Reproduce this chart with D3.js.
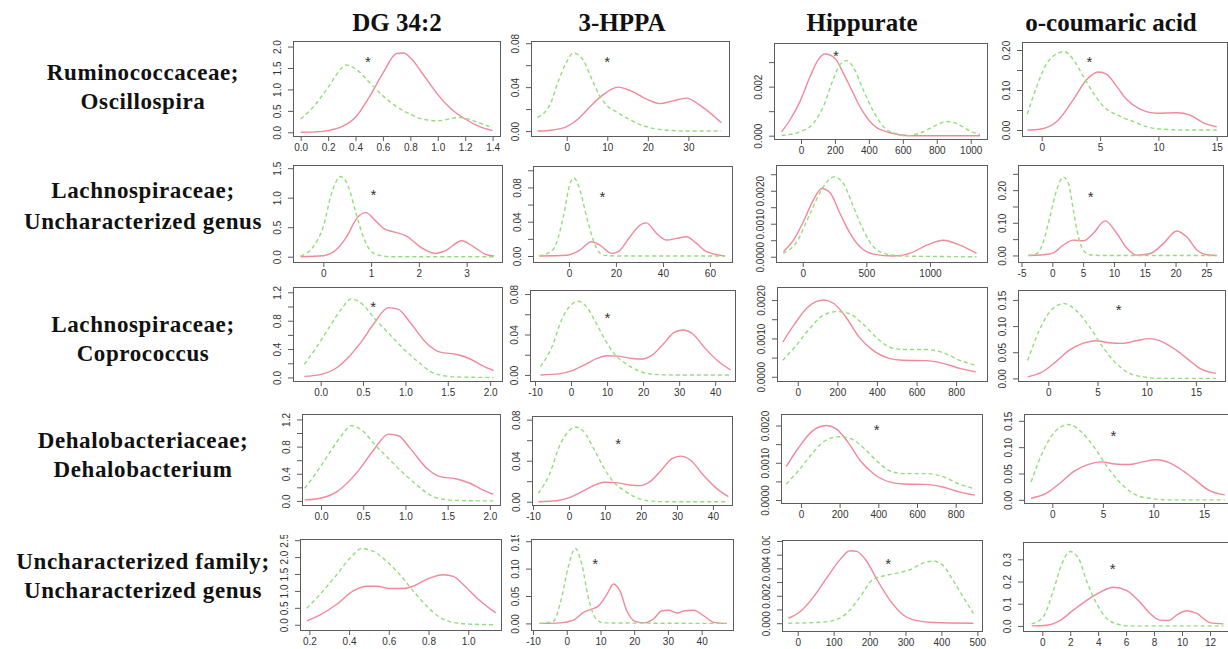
<!DOCTYPE html>
<html>
<head>
<meta charset="utf-8">
<script src="https://cdn.jsdelivr.net/npm/d3@7"></script>
<style>
body { margin: 0; background: #fff; }
.tick text { font-family: "Liberation Sans", Arial, sans-serif; font-size: 10px; fill: #333; }
.lbl { font-family: "Liberation Serif", "Times New Roman", serif; font-weight: bold; fill: #111; }
</style>
</head>
<body>
<svg id="chart"></svg>
<script>
const width = 1228;
const height = 649;

const metabolites = ["DG 34:2", "3-HPPA", "Hippurate", "o-coumaric acid"];
const taxa = [
    ["Ruminococcaceae;", "Oscillospira"],
    ["Lachnospiraceae;", "Uncharacterized genus"],
    ["Lachnospiraceae;", "Coprococcus"],
    ["Dehalobacteriaceae;", "Dehalobacterium"],
    ["Uncharacterized family;", "Uncharacterized genus"]
];

// density curves, [value, density]
// pink = solid line, green = dashed line
const oscDgPink = [[0,0],[0.1,0.01],[0.2,0.04],[0.3,0.13],[0.4,0.35],[0.5,0.82],[0.6,1.38],[0.7,1.84],[0.75,1.85],[0.8,1.74],[0.9,1.32],[1.0,0.88],[1.1,0.54],[1.2,0.31],[1.3,0.14],[1.4,0.04]];
const oscDgGreen = [[0,0.31],[0.1,0.62],[0.2,1.05],[0.3,1.5],[0.33,1.57],[0.4,1.48],[0.5,1.17],[0.6,0.85],[0.7,0.6],[0.8,0.42],[0.9,0.3],[1.0,0.27],[1.1,0.32],[1.15,0.35],[1.2,0.33],[1.3,0.22],[1.4,0.11]];
const oscHppaPink = [[-7.2,0],[-3.3,0.001],[0,0.004],[2.5,0.01],[5.7,0.022],[8.6,0.032],[12.7,0.040],[15.6,0.037],[19.7,0.029],[23,0.025],[26.2,0.0275],[29.5,0.030],[32.8,0.0236],[36,0.0145],[38.1,0.0075]];
const oscHppaGreen = [[-7.2,0.0125],[-4,0.025],[-2,0.046],[0,0.063],[1.6,0.071],[4,0.065],[6,0.049],[8,0.033],[10,0.023],[12,0.018],[15,0.0115],[18,0.006],[22,0.002],[26,0.0005],[30,0],[38.1,0]];
const oscHipPink = [[-114,0.00016],[-65,0.00064],[-6,0.00139],[53,0.0024],[102,0.0031],[141,0.00333],[200,0.00316],[250,0.00254],[299,0.00186],[358,0.00105],[426,0.00044],[525,0.00012],[642,0],[1055,0]];
const oscHipGreen = [[-114,0.00001],[-6,0.00016],[73,0.0005],[132,0.0012],[190,0.0023],[230,0.0029],[269,0.00306],[308,0.0028],[367,0.00186],[426,0.001],[485,0.00037],[564,0.00007],[623,0],[721,0.00016],[800,0.00044],[859,0.00058],[917,0.0005],[996,0.00019],[1055,0.00005]];
const oscCouPink = [[-1.23,0],[-0.14,0.002],[1.29,0.021],[2.71,0.076],[3.86,0.126],[4.86,0.145],[5.57,0.139],[6.43,0.109],[7.29,0.076],[8.43,0.052],[9.86,0.042],[11.57,0.043],[12.71,0.037],[13.86,0.018],[15,0.008]];
const oscCouGreen = [[-1.23,0.04],[-0.43,0.109],[0.57,0.172],[1.91,0.196],[2.71,0.176],[3.57,0.134],[4.43,0.092],[5.29,0.059],[6.43,0.038],[7.86,0.021],[9.29,0.006],[10.4,0.002],[12.7,0],[15,0]];

const lacDgPink = [[-0.475,0],[0,0.017],[0.28,0.125],[0.49,0.34],[0.70,0.65],[0.89,0.747],[1.08,0.62],[1.26,0.48],[1.47,0.42],[1.74,0.35],[2.02,0.17],[2.34,0.057],[2.55,0.10],[2.9,0.27],[3.14,0.17],[3.38,0.045],[3.57,0.011]];
const lacDgGreen = [[-0.475,0.011],[-0.21,0.17],[0,0.51],[0.174,1.075],[0.363,1.36],[0.523,1.19],[0.684,0.736],[0.837,0.34],[0.977,0.11],[1.15,0.028],[1.4,0],[3.57,0]];
const lacHppaPink = [[-12.6,0],[-1,0.0008],[4.7,0.007],[9.6,0.0166],[13.2,0.0127],[18.2,0.0031],[21,0.005],[26,0.0224],[30.2,0.0359],[33,0.0386],[37.3,0.0263],[41.6,0.0186],[45.8,0.0205],[50,0.0224],[54.3,0.0147],[58.6,0.005],[66.4,0]];
const lacHppaGreen = [[-12.6,0],[-6.7,0.0077],[-2.4,0.0456],[0.43,0.084],[2.1,0.091],[4.7,0.077],[7.5,0.046],[11.1,0.013],[14.6,0.001],[21.7,0],[66.4,0]];
const lacHipPink = [[-152,0.00015],[-73,0.0005],[5,0.00106],[84,0.00172],[149,0.00207],[215,0.00194],[293,0.00131],[372,0.00071],[450,0.0003],[555,0.00008],[712,0.00002],[843,0.0001],[974,0.00035],[1105,0.0005],[1236,0.00035],[1366,0.0001]];
const lacHipGreen = [[-152,0.0001],[-47,0.00045],[58,0.00131],[162,0.00212],[246,0.00242],[319,0.00222],[398,0.00152],[476,0.00081],[555,0.0003],[660,0.00008],[790,0.00002],[1366,0]];
const lacCouPink = [[-3.9,0],[-1.5,0.002],[0.16,0.008],[1.79,0.032],[3.41,0.047],[5.04,0.045],[6.67,0.068],[8.56,0.106],[10.46,0.068],[12.1,0.022],[13.7,0.001],[15.9,0.006],[18.05,0.037],[20.2,0.075],[21.8,0.057],[23.5,0.016],[25.1,0.002],[26.7,0]];
const lacCouGreen = [[-3.9,0],[-2.5,0.006],[-1.46,0.042],[-0.38,0.119],[0.7,0.2],[1.79,0.24],[2.6,0.222],[3.41,0.139],[4.23,0.057],[5.04,0.016],[6.1,0.002],[8,0],[26.7,0]];

// rows 3 and 4 show the same densities in the figure
const copDgPink = [[-0.193,0.015],[-0.008,0.04],[0.189,0.137],[0.347,0.31],[0.465,0.48],[0.623,0.75],[0.80,0.984],[0.918,0.96],[1.056,0.774],[1.253,0.48],[1.41,0.357],[1.61,0.323],[1.765,0.26],[1.92,0.16],[2.04,0.098]];
const copDgGreen = [[-0.193,0.186],[-0.047,0.43],[0.11,0.725],[0.248,0.97],[0.359,1.107],[0.485,1.04],[0.642,0.823],[0.82,0.6],[0.977,0.406],[1.135,0.235],[1.29,0.088],[1.45,0.024],[1.65,0.005],[2.04,0]];
const copHppaPink = [[-8.5,0],[-3.4,0.001],[0.3,0.0042],[4,0.0105],[7.2,0.0163],[10,0.019],[13.2,0.0186],[16.9,0.0163],[19.7,0.0157],[22.5,0.0196],[25.7,0.031],[28.5,0.0418],[31,0.0445],[33.8,0.0405],[37.3,0.026],[41,0.013],[44.3,0.0049]];
const copHppaGreen = [[-8.5,0.0082],[-5.3,0.0278],[-2.5,0.0555],[0.3,0.0702],[1.9,0.0728],[4,0.0686],[6.8,0.0523],[9.5,0.0343],[12.3,0.0196],[15.1,0.0114],[18.8,0.0039],[22.5,0.0007],[28,0],[44.3,0]];
const copHipPink = [[-76,0.0009],[-14,0.00139],[54,0.00183],[131,0.002],[182,0.00191],[241,0.00157],[309,0.00104],[377,0.0007],[461,0.00048],[529,0.00043],[648,0.00042],[733,0.00035],[818,0.00022],[899,0.00013]];
const copHipGreen = [[-76,0.00043],[-14,0.00078],[54,0.00122],[131,0.00161],[198,0.0017],[258,0.00165],[326,0.00139],[394,0.00104],[461,0.00078],[529,0.00071],[648,0.00071],[733,0.00063],[818,0.00043],[899,0.0003]];
const copCouPink = [[-2.1,0.003],[-0.58,0.0127],[0.78,0.032],[2.14,0.054],[3.49,0.067],[4.85,0.072],[6.2,0.068],[7.56,0.067],[8.92,0.072],[10.27,0.076],[11.6,0.07],[13,0.054],[14.3,0.035],[15.4,0.019],[17.05,0.0095]];
const copCouGreen = [[-2.1,0.034],[-0.92,0.092],[0.44,0.133],[1.63,0.143],[2.81,0.13],[4.17,0.099],[5.53,0.06],[6.88,0.029],[8.24,0.0095],[9.6,0.003],[11.3,0],[17.05,0]];

const uncDgPink = [[0.187,0.117],[0.254,0.293],[0.338,0.605],[0.421,1.0],[0.489,1.14],[0.539,1.14],[0.606,1.07],[0.673,1.07],[0.723,1.14],[0.79,1.34],[0.874,1.48],[0.925,1.43],[0.975,1.19],[1.042,0.8],[1.138,0.35]];
const uncDgGreen = [[0.187,0.49],[0.254,0.9],[0.338,1.48],[0.405,1.97],[0.463,2.25],[0.522,2.17],[0.589,1.875],[0.656,1.48],[0.723,1.0],[0.79,0.557],[0.858,0.215],[0.925,0.068],[1.009,0.02],[1.138,0]];
const uncHppaPink = [[-8.1,0],[-2,0.001],[2,0.006],[5,0.02],[7.4,0.026],[9.4,0.032],[11.9,0.053],[13.9,0.072],[15.8,0.059],[17.8,0.023],[20.3,0.0036],[22.8,0.001],[25.7,0.008],[28.2,0.023],[30.2,0.024],[32.7,0.019],[35.1,0.023],[37.6,0.024],[40.6,0.014],[43.6,0.002],[47.5,0]];
const uncHppaGreen = [[-8.1,0],[-4,0.0036],[-2,0.035],[0.5,0.104],[2.5,0.137],[4.5,0.107],[6.4,0.047],[8.4,0.011],[10.9,0.001],[47.5,0]];
const uncHipPink = [[-26,0.00036],[6.5,0.00083],[43.6,0.0019],[80.7,0.0033],[117.8,0.00464],[145.6,0.00529],[164,0.00524],[192,0.00452],[220,0.00321],[257,0.00167],[294,0.0006],[331,0.00019],[378,0.00005],[489,0]];
const uncHipGreen = [[-26,0],[53,0.00005],[99,0.00019],[136,0.00071],[173,0.0019],[210,0.0032],[248,0.0035],[285,0.0037],[313,0.0039],[350,0.0044],[378,0.00452],[405,0.0042],[433,0.0031],[461,0.0019],[489,0.0007]];
const uncCouPink = [[-0.76,0],[0.31,0.003],[1.26,0.024],[2.22,0.071],[3.17,0.115],[4.13,0.151],[5.08,0.174],[6.04,0.159],[6.99,0.107],[7.71,0.056],[8.42,0.026],[9.02,0.024],[9.62,0.049],[10.33,0.068],[11.05,0.056],[12.0,0.015],[12.96,0.009]];
const uncCouGreen = [[-0.76,0.009],[0.07,0.041],[0.79,0.159],[1.38,0.276],[1.98,0.335],[2.58,0.306],[3.17,0.203],[3.89,0.1],[4.6,0.034],[5.32,0.009],[6.28,0],[12.96,0]];

// axis ticks
const xtDg1 = [0, 0.2, 0.4, 0.6, 0.8, 1.0, 1.2, 1.4];
const xtDg2 = [0, 1, 2, 3];
const xtDg3 = [0, 0.5, 1.0, 1.5, 2.0];
const xtDg5 = [0.2, 0.4, 0.6, 0.8, 1.0];
const xtHppa1 = [0, 10, 20, 30];
const xtHppa2 = [0, 20, 40, 60];
const xtHppa3 = [-10, 0, 10, 20, 30, 40];
const xtHip1 = [0, 200, 400, 600, 800, 1000];
const xtHip2 = [0, 500, 1000];
const xtHip3 = [0, 200, 400, 600, 800];
const xtHip5 = [0, 100, 200, 300, 400, 500];
const xtCou1 = [0, 5, 10, 15];
const xtCou2 = [-5, 0, 5, 10, 15, 20, 25];
const xtCou5 = [0, 2, 4, 6, 8, 10, 12];

const ytDg1 = [0, 0.5, 1.0, 1.5, 2.0];
const ytDg2 = [0, 0.5, 1.0, 1.5];
const ytDg3 = [0, 0.2, 0.4, 0.6, 0.8, 1.0, 1.2];
const ylDg3 = [0, 0.4, 0.8, 1.2];
const ytDg5 = [0, 0.5, 1.0, 1.5, 2.0, 2.5];
const ytHppa1 = [0, 0.02, 0.04, 0.06, 0.08];
const ylHppa = [0, 0.04, 0.08];
const ytHppa2 = [0, 0.02, 0.04, 0.06, 0.08, 0.10];
const ytHppa5 = [0, 0.05, 0.10, 0.15];
const ytHip1 = [0, 0.001, 0.002, 0.003];
const ylHip1 = [0, 0.002];
const ytHip2 = [0, 0.0005, 0.001, 0.0015, 0.002, 0.0025];
const ylHip2 = [0, 0.001, 0.002];
const ytHip3 = [0, 0.0005, 0.001, 0.0015, 0.002];
const ytHip5 = [0, 0.001, 0.002, 0.003, 0.004, 0.005, 0.006];
const ylHip5 = [0, 0.002, 0.004, 0.006];
const ytCou1 = [0, 0.05, 0.10, 0.15, 0.20];
const ylCou1 = [0, 0.10, 0.20];
const ytCou2 = [0, 0.05, 0.10, 0.15, 0.20, 0.25];
const ylCou2 = [0, 0.10, 0.20];
const ytCou3 = [0, 0.05, 0.10, 0.15];
const ytCou5 = [0, 0.1, 0.2, 0.3];

// significance stars, [value, density]
const stars = [
    [[0.49, 1.70], [10, 0.066], [206, 0.00339], [4.09, 0.178]],
    [[1.05, 1.10], [14.3, 0.072], null, [6.23, 0.188]],
    [[0.62, 1.035], [10.1, 0.059], null, [7.15, 0.137]],
    [null, [13.7, 0.0594], [391, 0.00196], [6.03, 0.127]],
    [null, [8.4, 0.113], [252, 0.00452], [5.04, 0.269]]
];

// panel frames in pixels [left, top, right, bottom]
const boxes = [
    [[293, 41, 500, 136], [531, 41, 729, 136], [774, 43, 987, 139], [1022, 42, 1227, 136]],
    [[293, 165, 502, 262], [533, 166, 732, 262], [776, 165, 987, 262], [1018, 165, 1223, 262]],
    [[293, 287, 502, 381], [530, 290, 735, 381], [777, 287, 987, 381], [1018, 290, 1225, 381]],
    [[302, 414, 500, 505], [532, 416, 732, 505], [781, 414, 982, 503], [1024, 414, 1240, 503]],
    [[300, 539, 501, 630], [531, 539, 733, 630], [782, 540, 982, 631], [1023, 542, 1240, 631]]
];

const panels = [
    // row 1
    {pink: oscDgPink, green: oscDgGreen, xd: [-0.056, 1.454], yd: [-0.086, 2.13], xt: xtDg1, xf: ".1f", yt: ytDg1, yl: ytDg1, yf: ".1f"},
    {pink: oscHppaPink, green: oscHppaGreen, xd: [-8.8, 40.0], yd: [-0.0045, 0.082], xt: xtHppa1, xf: "d", yt: ytHppa1, yl: ylHppa, yf: ".2f"},
    {pink: oscHipPink, green: oscHipGreen, xd: [-159, 1096], yd: [-0.000135, 0.00378], xt: xtHip1, xf: "d", yt: ytHip1, yl: ylHip1, yf: ".3f"},
    {pink: oscCouPink, green: oscCouGreen, xd: [-1.69, 15.88], yd: [-0.015, 0.22], xt: xtCou1, xf: "d", yt: ytCou1, yl: ylCou1, yf: ".2f"},
    // row 2
    {pink: lacDgPink, green: lacDgGreen, xd: [-0.634, 3.74], yd: [-0.09, 1.554], xt: xtDg2, xf: "d", yt: ytDg2, yl: ytDg2, yf: ".1f"},
    {pink: lacHppaPink, green: lacHppaGreen, xd: [-15.3, 69.4], yd: [-0.007, 0.105], xt: xtHppa2, xf: "d", yt: ytHppa2, yl: ylHppa, yf: ".2f"},
    {pink: lacHipPink, green: lacHipGreen, xd: [-210, 1448], yd: [-0.00016, 0.00278], xt: xtHip2, xf: "d", yt: ytHip2, yl: ylHip2, yf: ".4f"},
    {pink: lacCouPink, green: lacCouGreen, xd: [-5.57, 27.7], yd: [-0.02, 0.277], xt: xtCou2, xf: "d", yt: ytCou2, yl: ylCou2, yf: ".2f"},
    // row 3
    {pink: copDgPink, green: copDgGreen, xd: [-0.327, 2.14], yd: [-0.05, 1.275], xt: xtDg3, xf: ".1f", yt: ytDg3, yl: ylDg3, yf: ".1f"},
    {pink: copHppaPink, green: copHppaGreen, xd: [-11.4, 45.5], yd: [-0.006, 0.084], xt: xtHppa3, xf: "d", yt: ytHppa1, yl: ylHppa, yf: ".2f"},
    {pink: copHipPink, green: copHipGreen, xd: [-105, 956], yd: [-0.00011, 0.00234], xt: xtHip3, xf: "d", yt: ytHip3, yl: ylHip2, yf: ".4f"},
    {pink: copCouPink, green: copCouGreen, xd: [-3.08, 17.96], yd: [-0.005, 0.169], xt: xtCou1, xf: "d", yt: ytCou3, yl: ytCou3, yf: ".2f"},
    // row 4
    {pink: copDgPink, green: copDgGreen, xd: [-0.225, 2.12], yd: [-0.06, 1.28], xt: xtDg3, xf: ".1f", yt: ytDg3, yl: ylDg3, yf: ".1f"},
    {pink: copHppaPink, green: copHppaGreen, xd: [-10.28, 45.3], yd: [-0.0032, 0.0836], xt: xtHppa3, xf: "d", yt: ytHppa1, yl: ylHppa, yf: ".2f"},
    {pink: copHipPink, green: copHipGreen, xd: [-103, 936], yd: [-0.00008, 0.00231], xt: xtHip3, xf: "d", yt: ytHip3, yl: ylHip2, yf: ".4f"},
    {pink: copCouPink, green: copCouGreen, xd: [-2.8, 18.55], yd: [-0.006, 0.163], xt: xtCou1, xf: "d", yt: ytCou3, yl: ytCou3, yf: ".2f"},
    // row 5
    {pink: uncDgPink, green: uncDgGreen, xd: [0.153, 1.165], yd: [-0.155, 2.535], xt: xtDg5, xf: ".1f", yt: ytDg5, yl: ytDg5, yf: ".1f"},
    {pink: uncHppaPink, green: uncHppaGreen, xd: [-10.6, 49.3], yd: [-0.012, 0.154], xt: xtHppa3, xf: "d", yt: ytHppa5, yl: ytHppa5, yf: ".2f"},
    {pink: uncHipPink, green: uncHipGreen, xd: [-43.7, 513], yd: [-0.00057, 0.00607], xt: xtHip5, xf: "d", yt: ytHip5, yl: ylHip5, yf: ".3f"},
    {pink: uncCouPink, green: uncCouGreen, xd: [-1.38, 14.15], yd: [-0.023, 0.378], xt: xtCou5, xf: "d", yt: ytCou5, yl: ytCou5, yf: ".1f"}
];

const headerX = [397, 622, 862, 1111];
const labelY = [[80, 109], [198, 229], [332, 361], [448, 477], [569, 598]];
const cropTop = [16, 16, 16, 16, 4];

const pinkColor = "#f0899a";
const greenColor = "#92de7c";
const frameColor = "#5c5c5c";

const svg = d3.select("#chart")
    .attr("width", width)
    .attr("height", height);

// column titles
svg.append("g")
    .selectAll("text")
    .data(metabolites)
    .enter().append("text")
    .attr("class", "lbl")
    .attr("x", (d, i) => headerX[i])
    .attr("y", 31)
    .attr("text-anchor", "middle")
    .style("font-size", "25px")
    .text(d => d);

// row titles
const rowLabels = svg.append("g")
    .selectAll("text")
    .data(taxa)
    .enter().append("text")
    .attr("class", "lbl")
    .attr("text-anchor", "middle")
    .style("font-size", "23px")
    .style("letter-spacing", "0.6px");

rowLabels.selectAll("tspan")
    .data((d, i) => d.map(t => ({t: t, row: i})))
    .enter().append("tspan")
    .attr("x", 143)
    .attr("y", (d, j) => labelY[d.row][j])
    .text(d => d.t);

const fmtMinus = f => v => d3.format(f)(v).replace("\u2212", "-");

panels.forEach(function(p, k) {
    const row = Math.floor(k / 4), col = k % 4;
    const [left, top, right, bottom] = boxes[row][col];

    const x = d3.scaleLinear().domain(p.xd).range([left, right]);
    const y = d3.scaleLinear().domain(p.yd).range([bottom, top]);

    // each panel was a cropped picture; row 5 is cut tight at the top
    svg.append("clipPath")
        .attr("id", "clip" + k)
        .append("rect")
        .attr("x", left - 45)
        .attr("y", top - cropTop[row])
        .attr("width", right - left + 53)
        .attr("height", bottom - top + cropTop[row] + 30);

    const g = svg.append("g").attr("clip-path", "url(#clip" + k + ")");

    // x axis
    const xAxis = g.append("g")
        .attr("transform", "translate(0," + bottom + ")")
        .call(d3.axisBottom(x)
            .tickValues(p.xt)
            .tickFormat(fmtMinus(p.xf))
            .tickSize(5)
            .tickPadding(3));
    xAxis.select(".domain").remove();

    // y axis, R style rotated labels
    const yf = fmtMinus(p.yf);
    const yAxis = g.append("g")
        .attr("transform", "translate(" + left + ",0)")
        .call(d3.axisLeft(y)
            .tickValues(p.yt)
            .tickFormat(d => p.yl.includes(d) ? yf(d) : "")
            .tickSize(5));
    yAxis.select(".domain").remove();
    yAxis.selectAll(".tick text")
        .attr("x", null)
        .attr("dy", null)
        .attr("text-anchor", "middle")
        .attr("transform", "translate(-12,0) rotate(-90)");

    g.selectAll(".tick line").attr("stroke", frameColor);

    // frame
    g.append("rect")
        .attr("x", left + 0.5)
        .attr("y", top + 0.5)
        .attr("width", right - left)
        .attr("height", bottom - top)
        .attr("fill", "none")
        .attr("stroke", frameColor)
        .attr("stroke-width", 1);

    const line = d3.line()
        .x(d => x(d[0]))
        .y(d => y(d[1]))
        .curve(d3.curveMonotoneX);

    g.append("path")
        .attr("d", line(p.pink))
        .attr("fill", "none")
        .attr("stroke", pinkColor)
        .attr("stroke-width", 1.4);

    g.append("path")
        .attr("d", line(p.green))
        .attr("fill", "none")
        .attr("stroke", greenColor)
        .attr("stroke-width", 1.4)
        .attr("stroke-dasharray", "4,3");

    const s = stars[row][col];
    if (s) {
        g.append("text")
            .attr("x", x(s[0]))
            .attr("y", y(s[1]) + 8)
            .attr("text-anchor", "middle")
            .style("font-family", "Liberation Sans, Arial, sans-serif")
            .style("font-size", "15px")
            .style("fill", "#333")
            .text("*");
    }
});
</script>
</body>
</html>
